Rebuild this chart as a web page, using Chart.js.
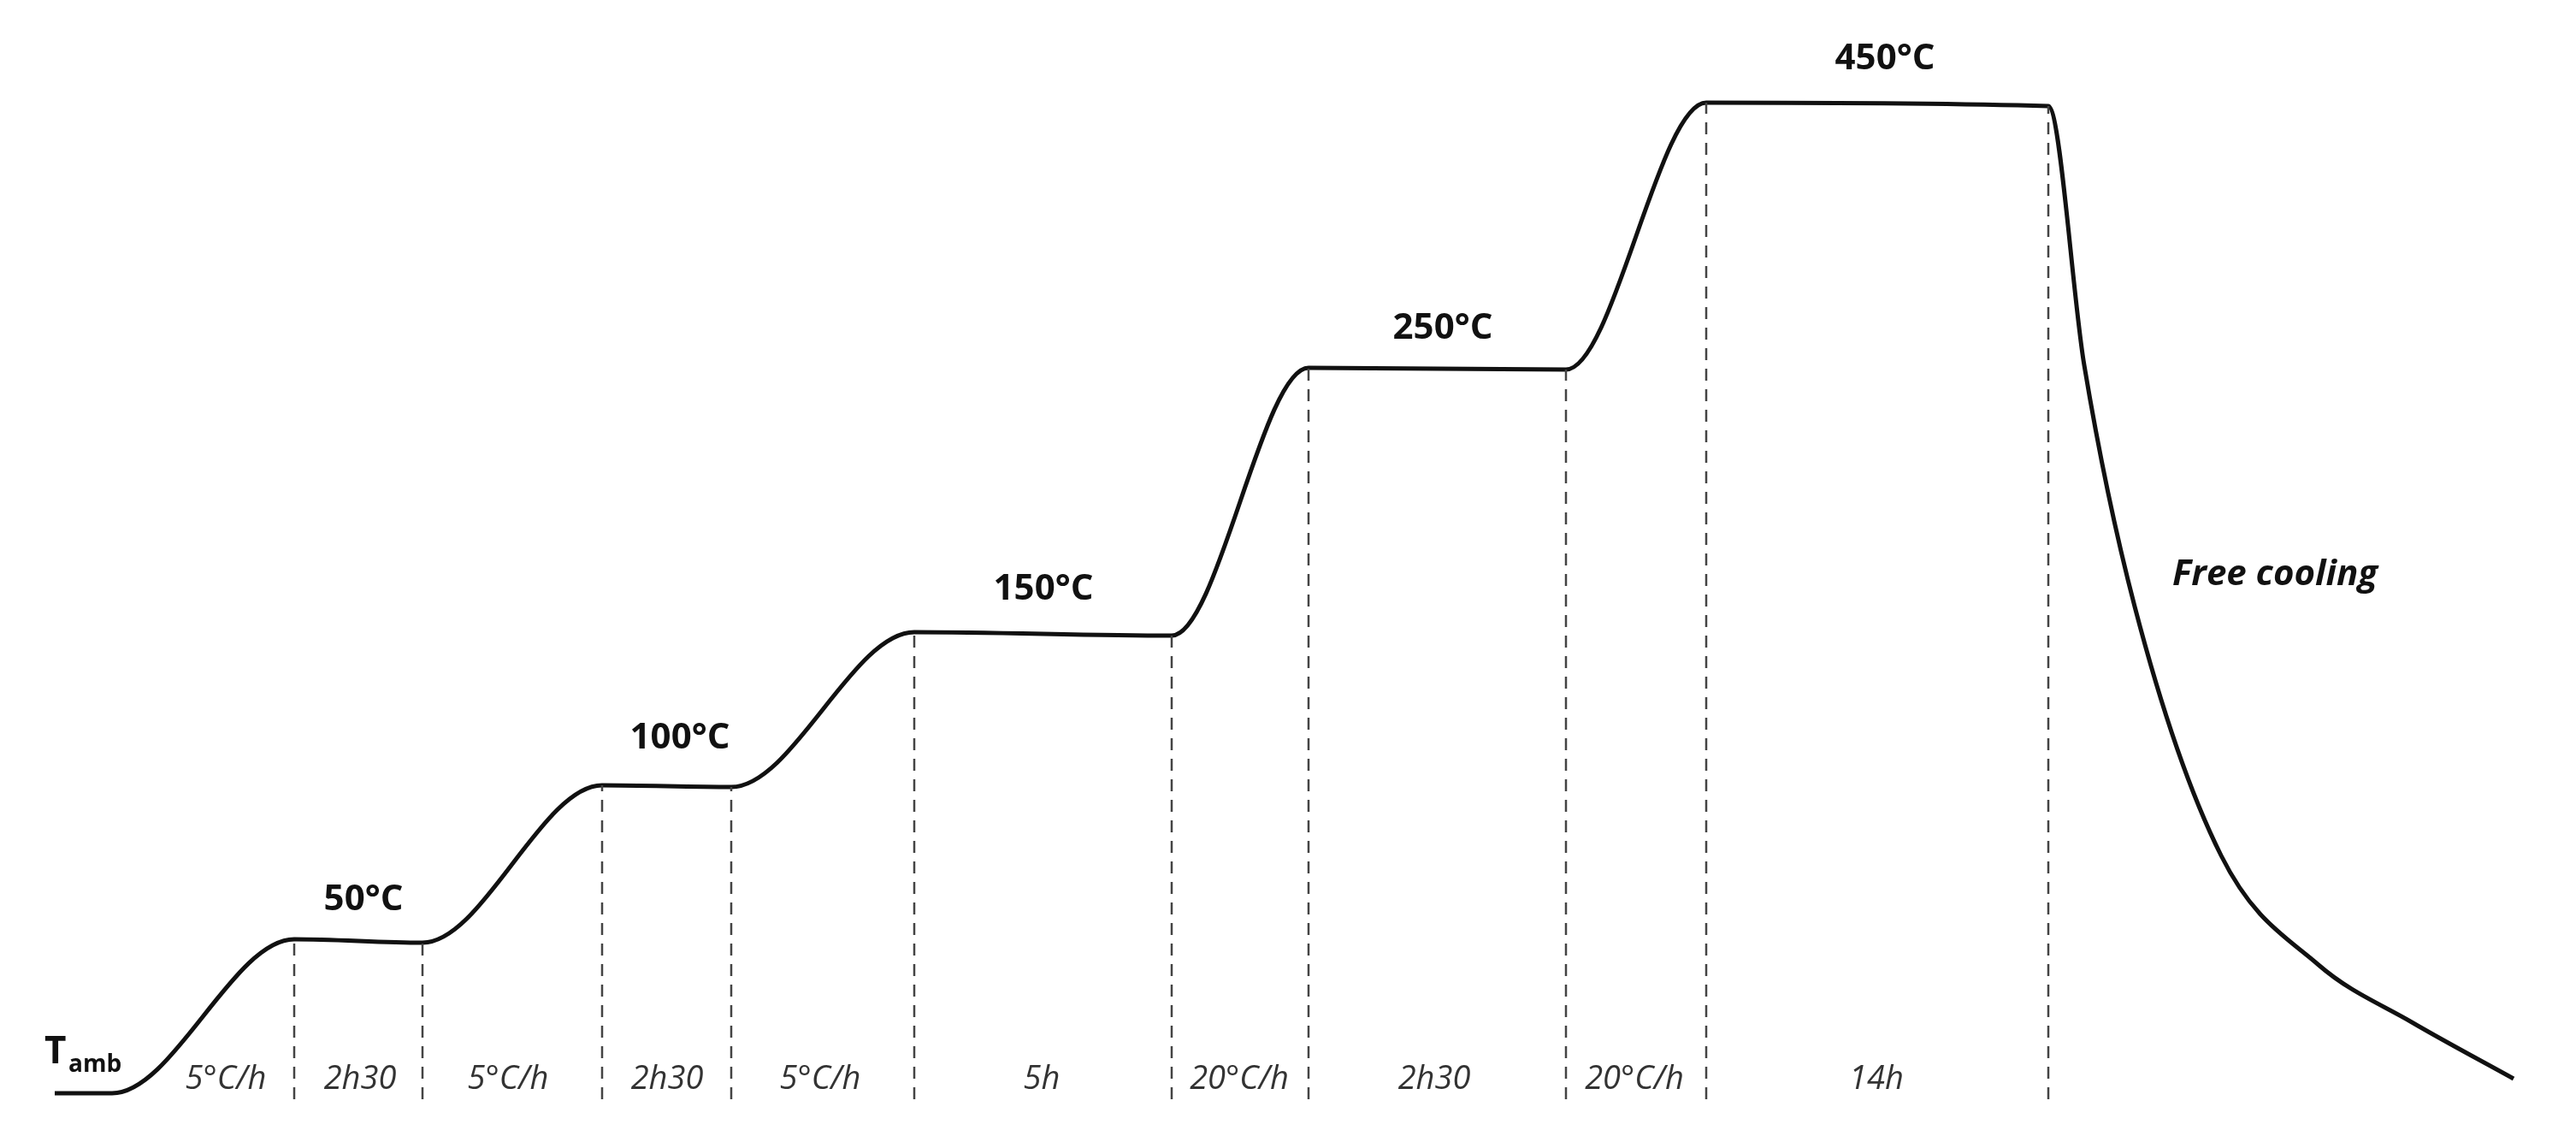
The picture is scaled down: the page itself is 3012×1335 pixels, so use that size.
<!DOCTYPE html>
<html><head><meta charset="utf-8">
<script src="https://cdn.jsdelivr.net/npm/chart.js"></script>
<style>html,body{margin:0;background:#fff}#wrap{width:3012px;height:1335px}</style>
</head><body><div id="wrap"><canvas id="c"></canvas></div>
<script>
// schematic positions (x to the right, y upward from the bottom)
const profileX = [64, 131, 344, 494, 704, 855, 1069, 1370, 1530, 1831, 1995, 2395, 2437, 2496, 2597, 2711, 2820, 2939];
const profileY = [57, 57, 237, 233, 417, 415, 596, 592, 905, 903, 1215, 1211, 908, 626, 335, 207, 140, 74];
const stepX = [344, 494, 704, 855, 1069, 1370, 1530, 1831, 1995, 2395];
const stepTop = [237, 233, 417, 415, 596, 592, 905, 903, 1215, 1211];
const segLabels = ['5°C/h', '2h30', '5°C/h', '2h30', '5°C/h', '5h', '20°C/h', '2h30', '20°C/h', '14h'];
const segX = [264, 421, 594, 780, 959, 1218, 1449, 1677, 1911, 2194];
const tempLabels = ['50°C', '100°C', '150°C', '250°C', '450°C'];
const tempX = [425, 795, 1220, 1687, 2204];
const tempY = [283, 472, 646, 951, 1266];

const profile = profileX.map((x, i) => ({ x, y: profileY[i] }));
const dashSets = stepX.map((x, i) => ({
  data: [{ x, y: 50 }, { x, y: stepTop[i] }],
  borderColor: '#444', borderWidth: 2.5, borderDash: [14, 10], pointRadius: 0, tension: 0
}));

const labels = {
  id: 'labels',
  afterDraw(chart) {
    const ctx = chart.ctx, sx = chart.scales.x, sy = chart.scales.y;
    ctx.save();
    ctx.textAlign = 'center';
    ctx.textBaseline = 'middle';
    ctx.fillStyle = '#333';
    ctx.font = 'italic 38px "Open Sans"';
    segLabels.forEach((t, i) => ctx.fillText(t, sx.getPixelForValue(segX[i]), sy.getPixelForValue(73)));
    ctx.fillStyle = '#111';
    ctx.font = 'bold 42px "Open Sans"';
    tempLabels.forEach((t, i) => ctx.fillText(t, sx.getPixelForValue(tempX[i]), sy.getPixelForValue(tempY[i])));
    ctx.font = 'italic bold 42px "Open Sans"';
    ctx.fillText('Free cooling', sx.getPixelForValue(2660), sy.getPixelForValue(663));
    ctx.textAlign = 'left';
    ctx.font = 'bold 44px "Open Sans"';
    ctx.fillText('T', sx.getPixelForValue(52), sy.getPixelForValue(105));
    ctx.font = 'bold 28px "Open Sans"';
    ctx.fillText('amb', sx.getPixelForValue(80), sy.getPixelForValue(90));
    ctx.restore();
  }
};

new Chart(document.getElementById('c'), {
  type: 'line',
  data: {
    datasets: [...dashSets, {
      data: profile, borderColor: '#111', borderWidth: 5, pointRadius: 0,
      cubicInterpolationMode: 'monotone'
    }]
  },
  options: {
    responsive: true, maintainAspectRatio: false, animation: false,
    layout: { padding: 0 },
    plugins: { legend: { display: false }, tooltip: { enabled: false } },
    scales: {
      x: { type: 'linear', min: 0, max: 3012, display: false },
      y: { type: 'linear', min: 0, max: 1335, display: false }
    }
  },
  plugins: [labels]
});
</script></body></html>
